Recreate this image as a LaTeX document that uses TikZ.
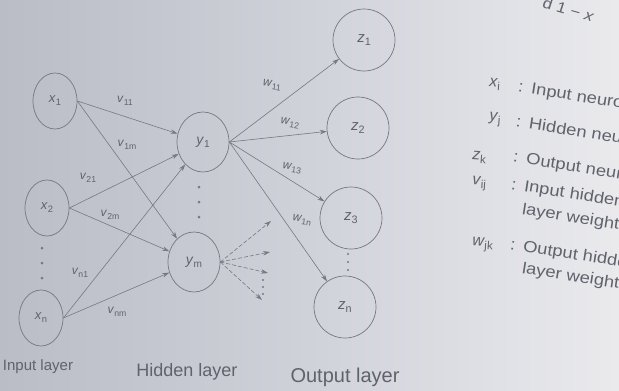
\documentclass[tikz,border=0pt]{standalone}
\usepackage{fontspec}
\setmainfont{Liberation Sans}
\usetikzlibrary{shapes.geometric,arrows.meta}
\definecolor{ink}{RGB}{118,120,130}
\definecolor{txt}{RGB}{96,98,108}
\definecolor{bgl}{RGB}{186,188,198}
\definecolor{bgm}{RGB}{208,210,218}
\definecolor{bgr}{RGB}{234,234,237}
\newcommand\vsub[2]{\textit{#1}\raisebox{-0.45ex}{\scalebox{0.72}{#2}}}
\begin{document}
\begin{tikzpicture}[x=1pt,y=-1pt,
  inp/.style={ellipse,draw=ink,line width=0.7pt,minimum width=44pt,minimum height=56pt,inner sep=0pt,text=txt,font=\fontsize{13}{13}\selectfont},
  hid/.style={ellipse,draw=ink,line width=0.7pt,minimum width=52pt,minimum height=60pt,inner sep=0pt,text=txt,font=\fontsize{14}{14}\selectfont},
  outn/.style={circle,draw=ink,line width=0.7pt,minimum size=62pt,inner sep=0pt,text=txt,font=\fontsize{15}{15}\selectfont},
  arr/.style={draw=ink,line width=0.6pt,-{Stealth[length=7pt,width=4.5pt]}},
  darr/.style={arr,dash pattern=on 4pt off 2pt},
  wl/.style={text=txt,font=\fontsize{12}{12}\selectfont,inner sep=1pt},
  dotc/.style={fill=ink,circle,inner sep=0pt,minimum size=3pt},
  legsym/.style={text=txt,font=\fontsize{16}{16}\selectfont,inner sep=0pt,anchor=west,rotate=-4},
  leg/.style={text=txt,font=\fontsize{16}{16}\selectfont,inner sep=0pt,anchor=west,rotate=-9,xscale=1.15},
  lay/.style={text=txt,inner sep=0pt}]
\shade[left color=bgl,right color=bgr,middle color=bgm] (0,0) rectangle (619,391);
\useasboundingbox (0,0) rectangle (619,391);

% input layer
\node[inp] (x1) at (55,101) {\vsub{x}{1}};
\node[inp] (x2) at (47,208) {\vsub{x}{2}};
\node[inp] (xn) at (41,318) {\vsub{x}{n}};
% hidden layer
\node[hid] (y1) at (203,142) {\vsub{y}{1}};
\node[hid] (ym) at (194,262) {\vsub{y}{m}};
% output layer
\node[outn] (z1) at (364,40) {\vsub{z}{1}};
\node[outn] (z2) at (358,128) {\vsub{z}{2}};
\node[outn] (z3) at (351,218) {\vsub{z}{3}};
\node[outn] (zn) at (345,307) {\vsub{z}{n}};

% dots
\foreach \yy [count=\i] in {248,263,278} \node[dotc] (dx\i) at (42,\yy) {};
\foreach \yy [count=\i] in {187,202,217} \node[dotc] (dy\i) at (199,\yy) {};
\foreach \yy [count=\i] in {254,262,270} \node[dotc,minimum size=2.4pt] (dz\i) at (348,\yy) {};
\foreach \yy [count=\i] in {280,287,294} \node[dotc,minimum size=2.2pt] (dm\i) at (263,\yy) {};

% input -> hidden
\draw[arr] (x1.east) -- (y1);
\draw[arr] (x1.east) -- (ym);
\draw[arr] (x2.east) -- (y1);
\draw[arr] (x2.east) -- (ym);
\draw[arr] (xn.east) -- (y1);
\draw[arr] (xn.east) -- (ym);
% hidden -> output
\draw[arr] (y1.east) -- (z1);
\draw[arr] (y1.east) -- (z2);
\draw[arr] (y1.east) -- (z3);
\draw[arr] (y1.east) -- (zn);
% ym outgoing
\coordinate (e1) at (271,221);
\coordinate (e2) at (270,252);
\coordinate (e3) at (268,273);
\coordinate (e4) at (262,300);
\foreach \e in {e1,e2,e3,e4} \draw[darr] (ym.east) -- (\e);

% weight labels
\node[wl] (l11) at (125,101) {\vsub{v}{11}};
\node[wl] (l1m) at (127,145) {\vsub{v}{1m}};
\node[wl] (l21) at (88,178) {\vsub{v}{21}};
\node[wl] (l2m) at (110,215) {\vsub{v}{2m}};
\node[wl] (ln1) at (80,273) {\vsub{v}{n1}};
\node[wl] (lnm) at (117,312) {\vsub{v}{nm}};
\node[wl,rotate=-8] (w11) at (272,85) {\vsub{w}{11}};
\node[wl,rotate=-8] (w12) at (290,123) {\vsub{w}{12}};
\node[wl,rotate=-8] (w13) at (292,168) {\vsub{w}{13}};
\node[wl,rotate=-8] (w1n) at (302,220) {\vsub{w}{1n}};

% layer labels
\node[lay,font=\fontsize{15}{15}\selectfont] (li) at (38,367) {Input layer};
\node[lay,font=\fontsize{18}{18}\selectfont] (lh) at (187,372) {Hidden layer};
\node[lay,font=\fontsize{20}{20}\selectfont] (lo) at (345,377) {Output layer};

% legend
\node[legsym] (s1) at (489,84) {\vsub{x}{i}};
\node[leg] (g1) at (518,88) {:\hspace{7pt}Input neurons};
\node[legsym] (s2) at (489,119) {\vsub{y}{j}};
\node[leg] (g2) at (516,121) {:\hspace{7pt}Hidden neurons};
\node[legsym] (s3) at (472,157) {\vsub{z}{k}};
\node[leg] (g3) at (513,158) {:\hspace{7pt}Output neurons};
\node[legsym] (s4) at (472,183) {\vsub{v}{ij}};
\node[leg] (g4) at (511,185) {:\hspace{7pt}Input hidden};
\node[leg] (g4b) at (522,210) {layer weights};
\node[legsym] (s5) at (472,244) {\vsub{w}{jk}};
\node[leg] (g5) at (510,245) {:\hspace{7pt}Output hidden};
\node[leg] (g5b) at (522,269) {layer weights};
\node[leg,rotate=-8,font=\fontsize{15}{15}\selectfont] (top) at (543,2) {d 1 − \textit{x}};
\end{tikzpicture}
\end{document}
